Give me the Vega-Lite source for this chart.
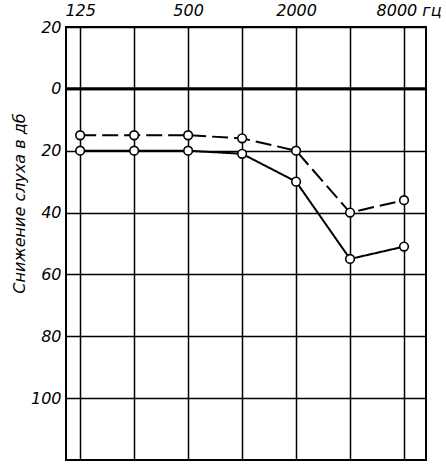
{
  "$schema": "https://vega.github.io/schema/vega-lite/v6.json",
  "width": 360,
  "height": 433,
  "autosize": "none",
  "padding": {"left": 66, "top": 27, "right": 20, "bottom": 5},
  "background": "white",
  "config": {
    "view": {"stroke": "black", "strokeWidth": 2},
    "axis": {
      "labelFont": "DejaVu Sans",
      "labelFontStyle": "italic",
      "labelFontSize": 16,
      "labelColor": "black",
      "titleFont": "DejaVu Sans",
      "titleFontStyle": "italic",
      "titleFontWeight": "normal",
      "titleColor": "black",
      "gridColor": "black",
      "gridOpacity": 1,
      "gridWidth": 1.5,
      "domain": false,
      "ticks": false
    }
  },
  "datasets": {
    "audio": [
      {"freq": 125, "db": 20, "curve": "solid"},
      {"freq": 250, "db": 20, "curve": "solid"},
      {"freq": 500, "db": 20, "curve": "solid"},
      {"freq": 1000, "db": 21, "curve": "solid"},
      {"freq": 2000, "db": 30, "curve": "solid"},
      {"freq": 4000, "db": 55, "curve": "solid"},
      {"freq": 8000, "db": 51, "curve": "solid"},
      {"freq": 125, "db": 15, "curve": "dashed"},
      {"freq": 250, "db": 15, "curve": "dashed"},
      {"freq": 500, "db": 15, "curve": "dashed"},
      {"freq": 1000, "db": 16, "curve": "dashed"},
      {"freq": 2000, "db": 20, "curve": "dashed"},
      {"freq": 4000, "db": 40, "curve": "dashed"},
      {"freq": 8000, "db": 36, "curve": "dashed"}
    ],
    "zero": [{"db": 0}]
  },
  "layer": [
    {
      "data": {"name": "zero"},
      "mark": {"type": "rule", "color": "black", "strokeWidth": 3},
      "encoding": {
        "y": {
          "field": "db", "type": "quantitative",
          "scale": {"domain": [-20, 120], "reverse": true, "nice": false, "zero": false},
          "axis": {
            "title": "Снижение слуха в дб",
            "titleFontSize": 16,
            "titleX": -47,
            "titleY": 176,
            "titleAngle": -90,
            "titleAlign": "center",
            "titleBaseline": "middle",
            "values": [-20, -10, 0, 10, 20, 30, 40, 50, 60, 70, 80, 90, 100, 110],
            "labelExpr": "datum.value % 20 == 0 ? '' + abs(datum.value) : ''",
            "labelPadding": 5,
            "labelFlush": false,
            "labelOverlap": false,
            "grid": true
          }
        }
      }
    },
    {
      "data": {"name": "audio"},
      "mark": {"type": "line", "color": "black", "strokeWidth": 2},
      "encoding": {
        "x": {
          "field": "freq", "type": "quantitative",
          "scale": {"type": "log", "domain": [104.2, 10609], "nice": false},
          "axis": {
            "orient": "top",
            "title": null,
            "values": [125, 250, 500, 1000, 2000, 4000, 8000],
            "labelExpr": "datum.value == 8000 ? '8000 гц' : (datum.value == 125 || datum.value == 500 || datum.value == 2000 ? '' + datum.value : '')",
            "labelPadding": 9,
            "labelAlign": {"condition": {"test": "datum.value == 8000", "value": "left"}, "value": "center"},
            "labelOffset": {"condition": {"test": "datum.value == 8000", "value": -28}, "value": 0},
            "labelFlush": false,
            "labelOverlap": false,
            "grid": true
          }
        },
        "y": {"field": "db", "type": "quantitative"},
        "strokeDash": {
          "field": "curve", "type": "nominal",
          "scale": {"domain": ["solid", "dashed"], "range": [[1, 0], [16, 6]]},
          "legend": null
        }
      }
    },
    {
      "data": {"name": "audio"},
      "mark": {"type": "point", "shape": "circle", "filled": true, "fill": "white", "stroke": "black", "strokeWidth": 1.6, "size": 75, "opacity": 1},
      "encoding": {
        "x": {"field": "freq", "type": "quantitative"},
        "y": {"field": "db", "type": "quantitative"}
      }
    }
  ]
}
